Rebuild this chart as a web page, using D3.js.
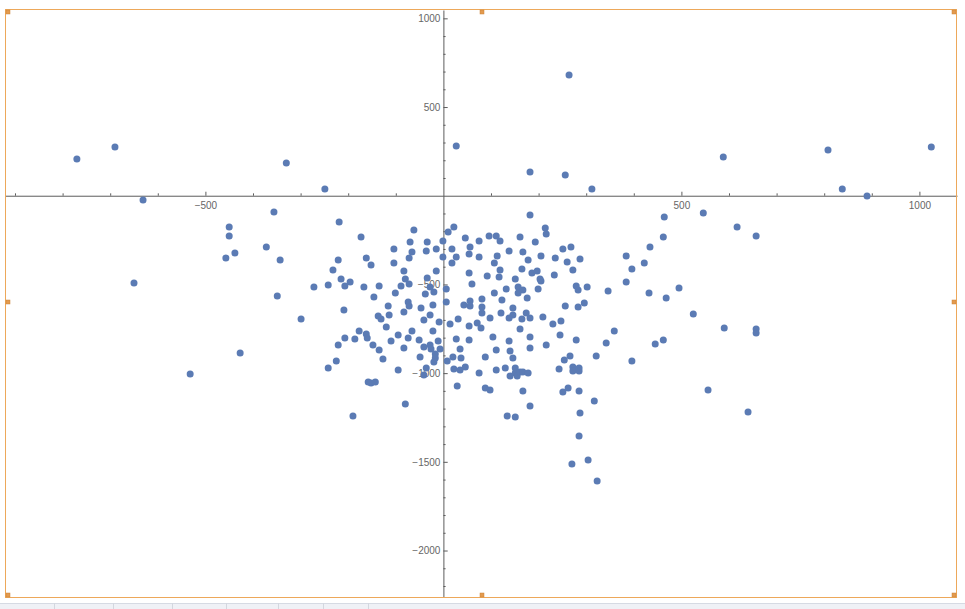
<!DOCTYPE html>
<html>
<head>
<meta charset="utf-8">
<script src="https://cdn.jsdelivr.net/npm/d3@7"></script>
<style>
  html, body { margin: 0; padding: 0; background: #ffffff; }
  svg { display: block; }
  .tick text { font-family: "Liberation Sans", Arial, sans-serif; font-size: 10px; fill: #666666; }
</style>
</head>
<body>
<svg id="chart" width="965" height="609"></svg>
<script>
// ---- data ----
const xValues = [
  -770, -690, -631, -330, -249, 27, 182, 264, 256, 312, 588, 808, 838, 890, 1025,
  -356, -450, -450, -372, -438, -457, -343, -650, -349, -299, -427, -532,
  -219, -173, -62, -70, -34, -104, -66, -36, -15, -162, -152, -221, -232, -104, -72, -83, -15,
  -215, -196, -80, -72, -34, -89, -272, -242, -207, -167, -135, -146, -101, -38, -20, -28,
  -74, -72, -116, -22, -47, -209, -83, -114, -137, -131, -28, -41, -9, -120, -66, -22, -177,
  -162, -160, -207, -186, -95, -74, -51, -11, -221, -148, -110, -135, -83, -41, -28, -26, -7,
  -17, -17, -20, -127, -225, -49, -242, -95, -36, -41, -158, -152, -143, -80, -190,
  -1, -1, 6, 6,
  22, 10, 18, 27, 18, 46, 56, 54, 75, 75, 96, 111, 119, 107, 113, 138, 161, 182, 193, 214, 216,
  167, 178, 205, 235, 251, 268, 260, 272, 287, 302, 283, 279, 296, 283, 256, 233, 205, 203,
  199, 186, 197, 165, 151, 157, 167, 157, 176, 117, 119, 92, 60, 54, 107, 132, 123, 81, 56, 56,
  43, 81, 81, 146, 146, 138, 121, 98, 174, 182, 165, 161, 209, 230, 247, 245, 279, 216, 182, 182,
  104, 111, 138, 140, 146, 88, 71, 79, 54, 54, 31, 14, 27, 35, 20, 37, 8, 22, 35, 46, 75, 111,
  130, 151, 151, 140, 155, 161, 167, 178, 29, 88, 98, 167, 243, 254, 266, 272, 272, 285, 285,
  251, 262, 285, 317, 321, 342, 359, 396, 182, 134, 151, 287, 285, 304, 270, 323,
  384, 434, 464, 462, 422, 396, 384, 346, 432, 468, 495, 546, 617, 657, 525, 590, 657, 657,
  445, 462, 556, 640
];
const yValues = [
  207, 275, -24, 184, 38, 280, 134, 680, 117, 38, 218, 258, 38, -2, 275,
  -92, -176, -227, -289, -323, -351, -362, -492, -565, -695, -887, -1005,
  -148, -233, -193, -261, -261, -300, -317, -312, -300, -351, -391, -362, -419, -379, -351, -424, -424,
  -470, -486, -470, -498, -464, -509, -515, -503, -509, -515, -509, -571, -548, -554, -543, -515,
  -599, -622, -622, -616, -633, -644, -656, -672, -678, -695, -672, -701, -712, -740, -763, -763, -763,
  -780, -802, -802, -808, -785, -802, -813, -819, -842, -842, -819, -870, -859, -853, -842, -864, -864,
  -892, -915, -937, -921, -932, -909, -971, -983, -971, -1011, -1050, -1056, -1050, -1174, -1242,
  -255, -346, -526, -599,
  -176, -205, -300, -346, -379, -238, -289, -329, -255, -346, -227, -227, -255, -379, -340, -312, -233, -109, -261, -182, -216,
  -317, -362, -340, -351, -300, -289, -374, -419, -357, -515, -532, -509, -605, -627, -622, -447, -481, -470,
  -526, -436, -424, -413, -470, -515, -532, -548, -577, -458, -419, -453, -498, -436, -548, -526, -588, -582, -594, -622,
  -616, -627, -661, -633, -672, -689, -661, -689, -661, -689, -695, -751, -684, -723, -706, -785, -813, -842, -796, -859,
  -796, -870, -819, -875, -915, -909, -718, -746, -734, -813, -695, -723, -808, -864, -909, -915, -932, -977, -983, -966, -999, -983,
  -971, -971, -999, -1016, -1016, -994, -994, -999, -1073, -1084, -1095, -1101, -977, -926, -904, -966, -988, -971, -988,
  -1107, -1084, -1101, -1157, -904, -830, -763, -932, -1185, -1242, -1247, -1225, -1355, -1490, -1512, -1608,
  -340, -289, -120, -233, -379, -413, -486, -537, -548, -577, -520, -98, -176, -227, -667, -746, -751, -774,
  -836, -813, -1095, -1219
];
const xMajorTicks = [-500, 500, 1000];
const xTickLabels = ["\u2212500", "500", "1000"];
const yMajorTicks = [-2000, -1500, -1000, -500, 500, 1000];
const yTickLabels = ["\u22122000", "\u22121500", "\u22121000", "\u2212500", "500", "1000"];
const xMinorTicks = d3.range(-900, 1001, 100).filter(v => v !== 0 && !xMajorTicks.includes(v));
const yMinorTicks = d3.range(-2200, 1001, 100).filter(v => v !== 0 && !yMajorTicks.includes(v));
const xDomain = [-921, 1079];
const yDomain = [-2262, 1047];

// ---- layout ----
const svg = d3.select("#chart");
const plotLeft = 5, plotRight = 957, plotTop = 10, plotBottom = 597;
const x = d3.scaleLinear().domain(xDomain).range([plotLeft, plotRight]);
const y = d3.scaleLinear().domain(yDomain).range([plotBottom, plotTop]);
const axisColor = "#5c5c5c";

// bottom notebook strip
svg.append("rect").attr("x", 0).attr("y", 603).attr("width", 965).attr("height", 6).attr("fill", "#eff1f6");
svg.append("line").attr("x1", 0).attr("x2", 965).attr("y1", 603.5).attr("y2", 603.5).attr("stroke", "#d6dae3");
[54, 113, 172, 226, 278, 323, 368].forEach(sx => {
  svg.append("line").attr("x1", sx + 0.5).attr("x2", sx + 0.5).attr("y1", 603).attr("y2", 609)
    .attr("stroke", "#d3d7df");
});

// x axis (ticks point up, labels below)
const gx = svg.append("g").attr("transform", `translate(0,${y(0)})`);
gx.call(d3.axisBottom(x).tickValues(xMinorTicks).tickFormat("").tickSizeInner(-2.4).tickSizeOuter(0));
const gx2 = svg.append("g").attr("transform", `translate(0,${y(0)})`);
gx2.call(d3.axisBottom(x).tickValues(xMajorTicks)
  .tickFormat((d, i) => xTickLabels[i]).tickSizeInner(-4).tickSizeOuter(0).tickPadding(6));
gx2.select(".domain").remove();

// y axis (ticks point right, labels left)
const gy = svg.append("g").attr("transform", `translate(${x(0)},0)`);
gy.call(d3.axisLeft(y).tickValues(yMinorTicks).tickFormat("").tickSizeInner(-2.2).tickSizeOuter(0));
const gy2 = svg.append("g").attr("transform", `translate(${x(0)},0)`);
gy2.call(d3.axisLeft(y).tickValues(yMajorTicks)
  .tickFormat((d, i) => yTickLabels[i]).tickSizeInner(-4.3).tickSizeOuter(0).tickPadding(3));
gy2.select(".domain").remove();

svg.selectAll(".domain").attr("stroke", axisColor).attr("stroke-width", 1);
svg.selectAll(".tick line").attr("stroke", axisColor).attr("stroke-width", 1);

// points
const pts = xValues.map((v, i) => ({ x: v, y: yValues[i] }));
svg.append("g").selectAll("circle").data(pts).join("circle")
  .attr("cx", d => x(d.x)).attr("cy", d => y(d.y)).attr("r", 3.5)
  .attr("fill", "#5b7bb4");

// selection frame
svg.append("rect").attr("x", 5.5).attr("y", 9.5).attr("width", 951).attr("height", 588)
  .attr("fill", "none").attr("stroke", "#eda85a").attr("stroke-width", 1);
const handles = [[6, 10], [480, 10], [952, 10], [6, 300], [952, 300], [6, 593], [480, 593], [952, 593]];
svg.append("g").selectAll("rect").data(handles).join("rect")
  .attr("x", d => d[0]).attr("y", d => d[1]).attr("width", 4).attr("height", 4)
  .attr("fill", "#e39a4e").attr("stroke", "#c98338").attr("stroke-width", 0.5);
</script>
</body>
</html>
